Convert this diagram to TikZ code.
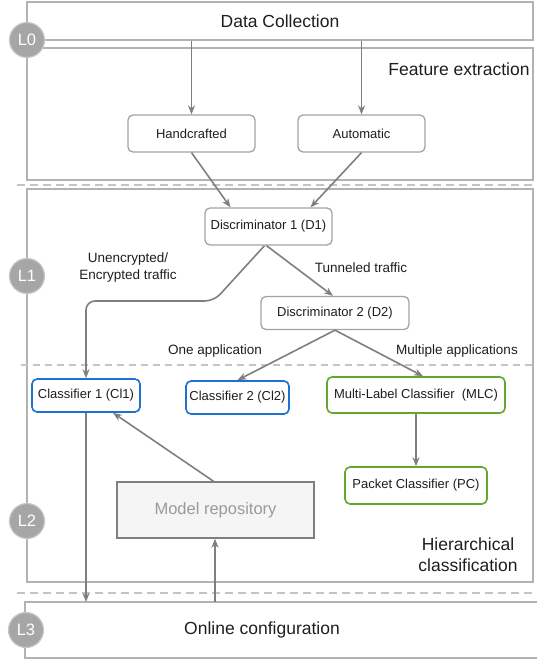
\documentclass[tikz,border=0pt]{standalone}
\usepackage{fontspec}
\setmainfont{Liberation Sans}
\usetikzlibrary{arrows.meta}
\definecolor{boxgray}{HTML}{B3B3B3}
\definecolor{arrgray}{HTML}{7F7F7F}
\definecolor{nodegray}{HTML}{A3A3A3}
\definecolor{clblue}{HTML}{1F70D0}
\definecolor{clgreen}{HTML}{62A82A}
\definecolor{circgray}{HTML}{A6A6A6}
\definecolor{circring}{HTML}{C8C8C8}
\definecolor{dashgray}{HTML}{C4C4C4}
\definecolor{txt}{HTML}{1E1E1E}
\definecolor{repofill}{HTML}{F5F5F5}
\definecolor{repotext}{HTML}{9A9A9A}
\begin{document}
\begin{tikzpicture}[x=1pt,y=-1pt,
  lay/.style={draw=boxgray, line width=1.2pt},
  nd/.style={draw=nodegray, rounded corners=5pt, line width=1.3pt, fill=white, inner sep=0pt, text=txt, font=\fontsize{13}{15}\selectfont},
  clb/.style={nd, draw=clblue, line width=1.6pt},
  clg/.style={nd, draw=clgreen, line width=1.6pt},
  arr/.style={draw=arrgray, line width=1.6pt, -{Stealth[length=9pt,width=7pt]}},
  big/.style={text=txt, font=\fontsize{17.5}{21}\selectfont, align=center},
  elab/.style={text=txt, font=\fontsize{13.5}{17}\selectfont, align=center},
  lvl/.style={circle, fill=circgray, draw=circring, line width=1.2pt, minimum size=35pt, inner sep=0pt, text=white, font=\fontsize{16.5}{18}\selectfont},
  sep/.style={draw=dashgray, line width=2pt, dash pattern=on 8pt off 5pt}
]
\useasboundingbox (0,0) rectangle (537,666);
% layer boxes
\node[lay, minimum width=506pt, minimum height=38pt, inner sep=0pt, big] (dc) at (280,21) {Data Collection};
\draw[lay] (27,48) rectangle (533,180);
\node[big] (fe) at (459,69) {Feature extraction};
\draw[sep] (17,185) -- (537,185);
\draw[lay] (27,189) rectangle (533,582);
\draw[draw=dashgray, line width=1.3pt, dash pattern=on 7pt off 5pt] (21,365) -- (537,365);
\draw[sep] (17,593) -- (537,593);
\draw[lay] (537,602) -- (25,602) -- (25,658) -- (537,658);
\coordinate (l3top) at (25,602);
\node[big] (oc) at (262,630) {Online configuration};
\node[big] (hc) at (468,555) {Hierarchical\\classification};

% level circles
\node[lvl] (L0) at (27,40) {L0};
\node[lvl] (L1) at (27,276) {L1};
\node[lvl] (L2) at (27,521) {L2};
\node[lvl] (L3) at (26,630) {L3};

% nodes
\node[nd, minimum width=127pt, minimum height=37pt] (hand) at (191.5,133.5) {Handcrafted};
\node[nd, minimum width=127pt, minimum height=37pt] (auto) at (361.5,133.5) {Automatic};
\node[nd, minimum width=127pt, minimum height=37pt] (d1) at (268.5,226.5) {Discriminator 1 (D1)};
\node[nd, minimum width=148pt, minimum height=33pt] (d2) at (335,313) {Discriminator 2 (D2)};
\node[clb, minimum width=108pt, minimum height=33pt] (cl1) at (86,395.5) {Classifier 1 (Cl1)};
\node[clb, minimum width=103pt, minimum height=33pt] (cl2) at (237.5,397.5) {Classifier 2 (Cl2)};
\node[clg, minimum width=178pt, minimum height=36pt] (mlc) at (416,395) {Multi-Label Classifier~~(MLC)};
\node[clg, minimum width=142pt, minimum height=37pt] (pc) at (416,485.5) {Packet Classifier (PC)};
\node[draw=arrgray, line width=1.5pt, fill=repofill, minimum width=197pt, minimum height=56pt, inner sep=0pt, text=repotext, font=\fontsize{16.5}{20}\selectfont] (repo) at (215.5,510) {Model repository};

% edge labels
\node[elab] (lab1) at (128,268) {Unencrypted/\\Encrypted traffic};
\node[elab] (lab2) at (361,268) {Tunneled traffic};
\node[elab] (lab3) at (215,351) {One application};
\node[elab] (lab4) at (457,351) {Multiple applications};

% connectors
\draw[arr] (hand.north |- dc.south) -- (hand.north);
\draw[arr] (auto.north |- dc.south) -- (auto.north);
\draw[arr] (hand.south) -- ([xshift=-38pt]d1.north);
\draw[arr] (auto.south) -- ([xshift=42pt]d1.north);
\draw[arr, rounded corners=9pt] ([xshift=-4pt]d1.south) -- (214,301) -- (86,301) -- (cl1.north);
\draw[arr] ([xshift=-2pt]d1.south) -- ([xshift=-2pt]d2.north);
\draw[arr] (d2.south) -- (cl2.north);
\draw[arr] (d2.south) -- ([xshift=7pt]mlc.north);
\draw[arr] (mlc.south) -- (pc.north);
\draw[arr] ([xshift=-2pt]repo.north) -- ([xshift=27pt]cl1.south);
\draw[arr] (cl1.south) -- (cl1.south |- l3top);
\draw[arr] ([xshift=-0.5pt]repo.south |- l3top) -- ([xshift=-0.5pt]repo.south);
\end{tikzpicture}
\end{document}
